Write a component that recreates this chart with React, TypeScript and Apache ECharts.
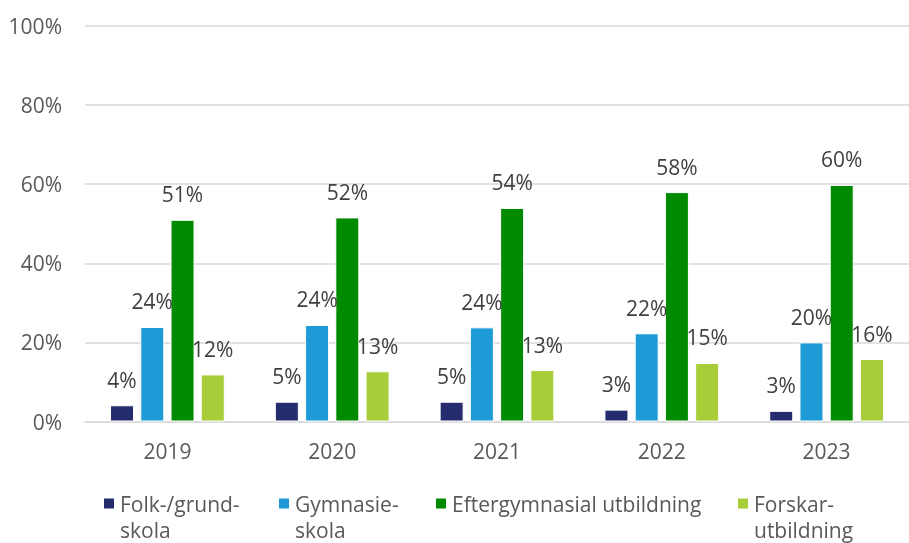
import React, { useEffect, useRef } from "react";
import * as echarts from "echarts";

const years = ["2019", "2020", "2021", "2022", "2023"];
const seriesNames = ["Folk-/grund-\nskola", "Gymnasie-\nskola", "Eftergymnasial utbildning", "Forskar-\nutbildning"];
const folkGrund = [4.1, 5.0, 5.0, 3.0, 2.7];
const gymnasie = [23.9, 24.4, 23.8, 22.3, 20.0];
const eftergymnasial = [51.0, 51.6, 54.0, 58.0, 59.8];
const forskar = [11.9, 12.7, 13.0, 14.8, 15.8];
const yTicks = [0, 20, 40, 60, 80, 100];

const colors = ["#252C6D", "#1E9BD7", "#008A00", "#A7CE38"];
const FONT = "'Open Sans', 'Noto Sans', sans-serif";
const FS = 21;
const LH = 26;

export default function App() {
  const ref = useRef<HTMLDivElement>(null);
  useEffect(() => {
    if (!ref.current) return;
    const chart = echarts.init(ref.current, undefined, { renderer: "svg" });
    const data = [folkGrund, gymnasie, eftergymnasial, forskar];
    const legendLefts = [102, 277, 434, 736];
    const iconCenter = 503.5;
    chart.setOption({
      animation: false,
      color: colors,
      grid: { left: 85, right: -13, top: 26, bottom: 121.5, containLabel: false },
      xAxis: {
        type: "category",
        data: years,
        axisLine: { show: true, lineStyle: { color: "#d9d9d9", width: 1.5 } },
        axisTick: { show: false },
        axisLabel: { color: "#595959", fontFamily: FONT, fontSize: FS, margin: 19 },
      },
      yAxis: {
        type: "value",
        min: yTicks[0],
        max: yTicks[yTicks.length - 1],
        interval: 20,
        axisLine: { show: false },
        axisTick: { show: false },
        axisLabel: { color: "#595959", fontFamily: FONT, fontSize: FS, margin: 23, formatter: "{value}%" },
        splitLine: { lineStyle: { color: "#d9d9d9", width: 1.5 } },
      },
      legend: seriesNames.map((name, i) => {
        const multi = name.includes("\n");
        return {
          data: [name],
          left: legendLefts[i],
          top: multi ? iconCenter - 1.5 * LH : iconCenter - LH / 2,
          padding: 0,
          itemWidth: 12,
          itemHeight: 12,
          icon: "rect",
          formatter: (n: string) => (multi ? "\n" + n : n),
          textStyle: {
            color: "#595959",
            fontFamily: FONT,
            fontSize: FS,
            lineHeight: LH,
          },
        };
      }),
      series: seriesNames.map((name, i) => ({
        name,
        type: "bar",
        data: data[i],
        barWidth: 24,
        barGap: "26%",
        itemStyle: { color: colors[i], borderColor: "#ffffff", borderWidth: 1 },
        label: {
          show: true,
          position: "top",
          distance: 15,
          color: "#404040",
          fontFamily: FONT,
          fontSize: FS,
          formatter: (p: any) => Math.round(p.value) + "%",
        },
      })),
    });
    return () => chart.dispose();
  }, []);
  return <div ref={ref} style={{ position: "fixed", left: 0, top: 0, width: 909, height: 543 }} />;
}
